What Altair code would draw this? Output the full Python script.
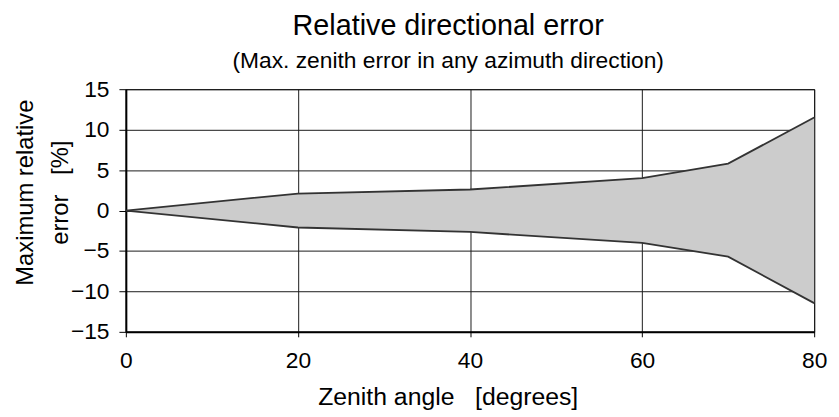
import altair as alt
import pandas as pd

zenith = [0, 20, 40, 60, 70, 80]
upper = [0, 2.1, 2.6, 4.0, 5.8, 11.5]
lower = [0, -2.1, -2.65, -4.0, -5.7, -11.45]

df = pd.DataFrame({"zenith": zenith, "upper": upper, "lower": lower})

FONT = "Liberation Sans"
SP3 = " \u00a0 "

x = alt.X("zenith:Q",
          scale=alt.Scale(domain=[0, 80], nice=False, zero=False),
          axis=alt.Axis(values=[0, 20, 40, 60, 80], title="Zenith angle" + SP3 + "[degrees]",
                        titleX=325, titleY=73, titleBaseline="alphabetic", titleAlign="center",
                        titleFontSize=25,
                        tickSize=5, labelPadding=13, labelFlush=False))
y_axis = alt.Axis(values=[-15, -10, -5, 0, 5, 10, 15],
                  title=["Maximum relative", "error" + SP3 + "[%]"],
                  titleX=-94, titleY=104, titleAngle=270, titleBaseline="alphabetic",
                  titleAlign="center", titleLineHeight=35, titleFontSize=24,
                  tickSize=7, labelPadding=10)
yscale = alt.Scale(domain=[-15, 15], nice=False)

base = alt.Chart(df)
area = base.mark_area(color="#cccccc", opacity=1).encode(
    x=x,
    y=alt.Y("upper:Q", scale=yscale, axis=y_axis),
    y2="lower:Q",
)
line_up = base.mark_line(color="#333333", strokeWidth=1.8).encode(x="zenith:Q", y="upper:Q")
line_lo = base.mark_line(color="#333333", strokeWidth=1.8).encode(x="zenith:Q", y="lower:Q")

chart = alt.layer(area, line_up, line_lo).properties(
    width=695, height=245,
    background="#ffffff",
    title=alt.TitleParams(
        text="Relative directional error",
        subtitle="(Max. zenith error in any azimuth direction)",
        font=FONT, fontSize=29, fontWeight="normal", color="#000000",
        subtitleFont=FONT, subtitleFontSize=23, subtitleColor="#000000",
        subtitlePadding=10, anchor="middle", dx=-22, offset=5,
    ),
    autosize=alt.AutoSizeParams(type="none"),
    padding={"left": 119, "top": 80, "right": 17, "bottom": 84},
).configure_axis(
    labelFont=FONT, labelFontSize=23, labelColor="#000000",
    titleFont=FONT, titleFontWeight="normal", titleColor="#000000",
    grid=True, gridColor="#1a1a1a", gridWidth=1, gridOpacity=1,
    domainColor="#000000", domainWidth=2, tickColor="#000000", tickWidth=1,
    zindex=1,
).configure_view(stroke="#000000", strokeWidth=1)

chart.save("out.html", embed_options={"renderer": "svg", "actions": False})
